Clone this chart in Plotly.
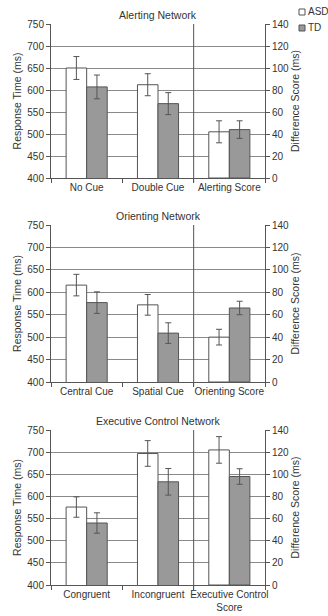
import plotly.graph_objects as go

# ---- data ----
panel_titles = ["Alerting Network", "Orienting Network", "Executive Control Network"]
categories = [
    ["No Cue", "Double Cue", "Alerting Score"],
    ["Central Cue", "Spatial Cue", "Orienting Score"],
    ["Congruent", "Incongruent", "Executive Control<br>Score"],
]
# response times (ms) for first two categories, difference score (ms) for third
asd_values = [[650, 612, 42], [616, 572, 40], [576, 697, 122]]
asd_errors = [[26, 25, 10], [24, 23, 7], [23, 29, 12]]
td_values = [[607, 569, 44], [577, 509, 66], [540, 633, 98]]
td_errors = [[27, 25, 8], [24, 23, 6], [23, 30, 7]]
series_names = ["ASD", "TD"]
left_ticks = [400, 450, 500, 550, 600, 650, 700, 750]
right_ticks = [0, 20, 40, 60, 80, 100, 120, 140]

W, H = 328, 616
x_dom = [51 / W, 265 / W]
y_px = [(24, 178), (225, 382), (430, 585)]

TXT = "#333333"
LINE = "#555555"
GRID = "#8a8a8a"
FONT = "Liberation Sans, Arial, sans-serif"
COLORS = ["white", "#999999"]

fig = go.Figure()
bw = 0.288

series = [
    (series_names[0], asd_values, asd_errors, COLORS[0], -bw),
    (series_names[1], td_values, td_errors, COLORS[1], 0.0),
]

for i in range(3):
    xa = "x" if i == 0 else f"x{i+1}"
    yl = "y" if i == 0 else f"y{2*i+1}"
    yr = f"y{2*i+2}"
    cats = categories[i]
    for name, vals, errs, color, off in series:
        common = dict(
            name=name,
            legendgroup=name,
            showlegend=False,
            marker=dict(color=color, line=dict(color=LINE, width=1)),
            width=bw,
            offset=off,
            xaxis=xa,
        )
        fig.add_trace(go.Bar(x=cats[:2], y=vals[i][:2], yaxis=yl,
                             error_y=dict(type="data", array=errs[i][:2], thickness=1, width=3, color=LINE),
                             **common))
        fig.add_trace(go.Bar(x=cats[2:], y=vals[i][2:], yaxis=yr,
                             error_y=dict(type="data", array=errs[i][2:], thickness=1, width=3, color=LINE),
                             **common))

layout = dict(
    width=W, height=H,
    margin=dict(l=0, r=0, t=0, b=0, autoexpand=False),
    paper_bgcolor="white", plot_bgcolor="white",
    font=dict(family=FONT, size=10, color=TXT),
    barmode="overlay",
    showlegend=False,
)

annotations = []
shapes = []
for i in range(3):
    top, bot = y_px[i]
    dom = [1 - bot / H, 1 - top / H]
    xk = "xaxis" if i == 0 else f"xaxis{i+1}"
    ylk = "yaxis" if i == 0 else f"yaxis{2*i+1}"
    yrk = f"yaxis{2*i+2}"
    yl = "y" if i == 0 else f"y{2*i+1}"
    xa = "x" if i == 0 else f"x{i+1}"
    layout[xk] = dict(
        domain=x_dom, anchor=yl, type="category", automargin=False,
        categoryorder="array", categoryarray=categories[i],
        range=[-0.5, 2.5], tickangle=0,
        showline=True, linecolor=LINE, linewidth=1,
        ticks="outside", tickson="boundaries", ticklen=4, tickcolor=LINE,
        showgrid=False, tickfont=dict(size=10, color=TXT),
    )
    layout[ylk] = dict(
        domain=dom, anchor=xa, range=[400, 750], automargin=False,
        tickvals=left_ticks, ticks="outside", ticklen=4, tickcolor=LINE,
        showline=True, linecolor=LINE, linewidth=1,
        showgrid=True, gridcolor=GRID, gridwidth=1,
        zeroline=False, tickfont=dict(size=10, color=TXT),
        title=dict(text="Response Time (ms)", font=dict(size=10.5, color=TXT), standoff=3),
    )
    layout[yrk] = dict(
        domain=dom, anchor=xa, overlaying=yl, side="right", range=[0, 140], automargin=False,
        tickvals=right_ticks, ticks="outside", ticklen=4, tickcolor=LINE,
        showline=True, linecolor=LINE, linewidth=1,
        showgrid=False, zeroline=False, tickfont=dict(size=10, color=TXT),
        title=dict(text="Difference Score (ms)", font=dict(size=10.5, color=TXT), standoff=3),
    )
    annotations.append(dict(
        text=panel_titles[i], xref="paper", yref="paper",
        x=(x_dom[0] + x_dom[1]) / 2, y=dom[1], yanchor="bottom", xanchor="center",
        yshift=1, showarrow=False, font=dict(size=10.5, color=TXT),
    ))
    shapes.append(dict(
        type="line", xref=xa, yref=f"{yl} domain",
        x0=1.5, x1=1.5, y0=-0.03, y1=1.0,
        line=dict(color=LINE, width=1), layer="above",
    ))

# legend (top right)
legend_y = [12, 28]
for name, color, ly in zip(series_names, COLORS, legend_y):
    shapes.append(dict(
        type="rect", xref="paper", yref="paper",
        x0=299 / W, x1=305 / W, y0=1 - (ly + 3) / H, y1=1 - (ly - 3) / H,
        fillcolor=color, line=dict(color=LINE, width=1),
    ))
    annotations.append(dict(
        text=name, xref="paper", yref="paper", x=305.5 / W, y=1 - ly / H,
        xanchor="left", yanchor="middle", showarrow=False,
        font=dict(size=10, color=TXT),
    ))

layout["annotations"] = annotations
layout["shapes"] = shapes
fig.update_layout(**layout)

fig.write_html("out.html", config={"displayModeBar": False},
               post_script="document.body.style.margin='0';document.body.style.padding='0';")
